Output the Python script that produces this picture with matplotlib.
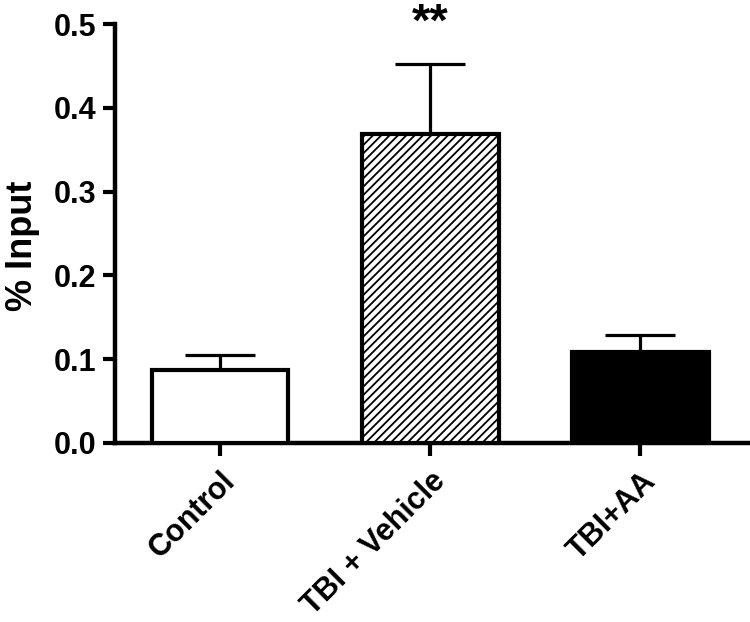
import matplotlib
matplotlib.use("Agg")
import matplotlib.pyplot as plt

# values
groups = ["Control", "TBI + Vehicle", "TBI+AA"]
means = [0.087, 0.369, 0.108]
sems = [0.018, 0.083, 0.021]
fills = ["white", "white", "black"]
hatches = ["", "////", ""]

plt.rcParams["font.family"] = ["Liberation Sans", "DejaVu Sans"]
plt.rcParams["font.weight"] = "bold"
plt.rcParams["hatch.linewidth"] = 1.3

fig = plt.figure(figsize=(7.5, 6.22), dpi=100)
ax = fig.add_axes([0.153, 0.288, 0.844, 0.673])

x = range(len(groups))
bars = ax.bar(x, means, width=0.65, color=fills, edgecolor="black",
              linewidth=3, zorder=3)
for b, h in zip(bars, hatches):
    b.set_hatch(h)

# upward-only error bars
ax.errorbar(x, means, yerr=[[0] * len(sems), sems], fmt="none",
            ecolor="black", elinewidth=2.3, capsize=25, capthick=2.3, zorder=2)

ax.text(1, 0.486, "**", ha="center", va="baseline", fontsize=34,
        fontweight="bold", clip_on=False)

ax.set_xlim(-0.5, 2.51)
ax.set_ylim(0, 0.5)
ax.set_yticks([0.0, 0.1, 0.2, 0.3, 0.4, 0.5])
ax.set_yticklabels(["0.0", "0.1", "0.2", "0.3", "0.4", "0.5"])
ax.set_xticks(list(x))
ax.set_xticklabels(groups, rotation=45, ha="right", rotation_mode="anchor")
ax.set_ylabel("% Input", fontsize=26, fontweight="bold", labelpad=10)
ax.yaxis.label.set_y(0.47)

for s in ["top", "right"]:
    ax.spines[s].set_visible(False)
for s in ["left", "bottom"]:
    ax.spines[s].set_linewidth(3.2)
ax.tick_params(axis="both", width=3, length=9, direction="out")
ax.tick_params(axis="y", labelsize=22, pad=4)
ax.tick_params(axis="x", labelsize=22, pad=8)

fig.savefig("out.png", dpi=100)
